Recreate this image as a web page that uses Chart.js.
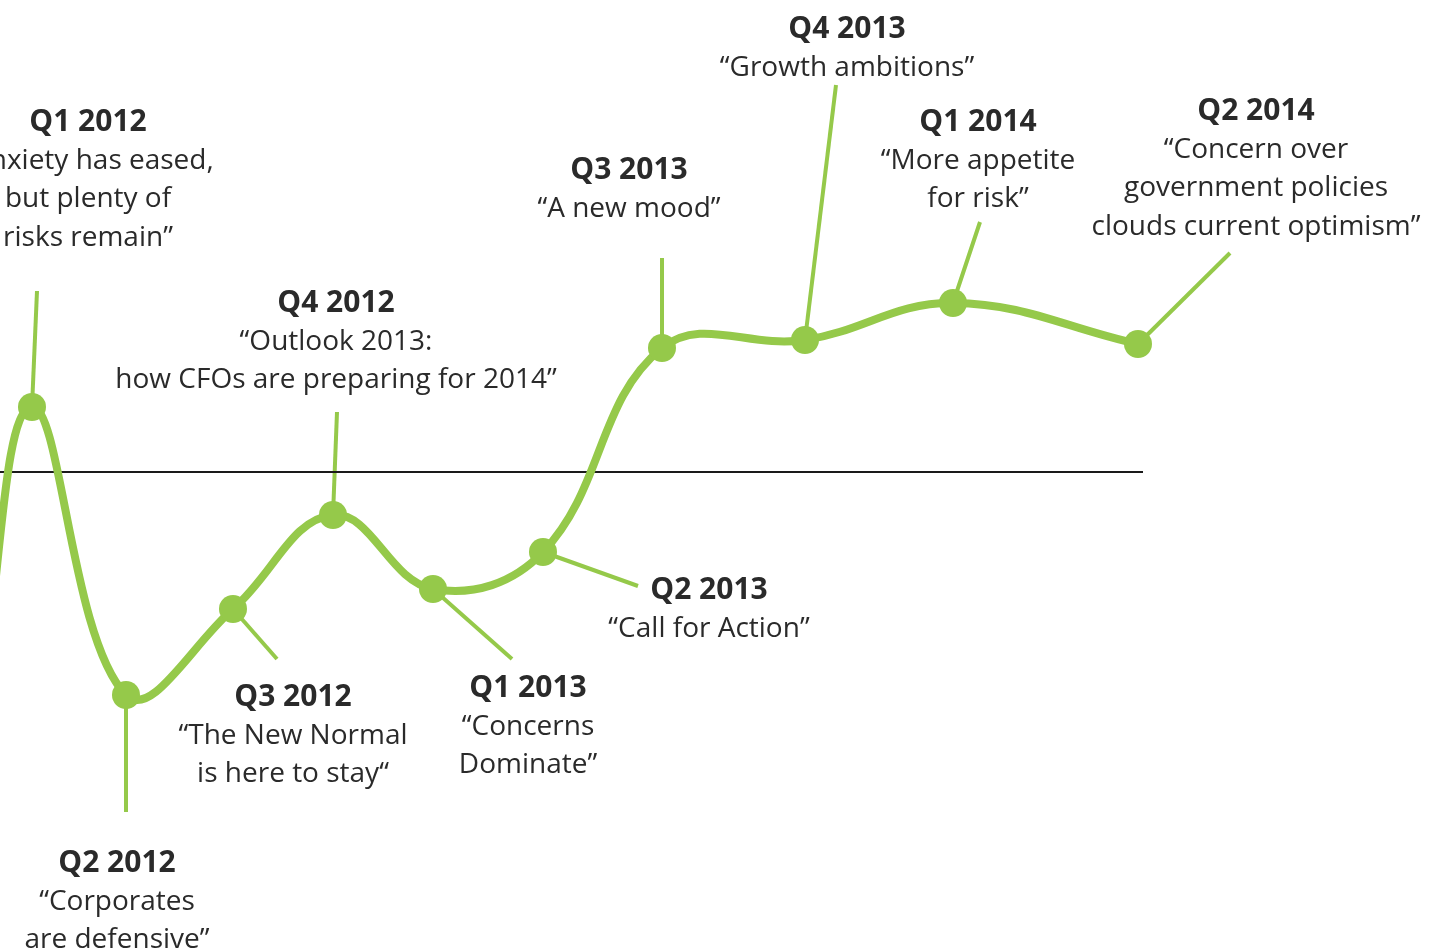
<!DOCTYPE html>
<html>
<head>
<meta charset="utf-8">
<script src="https://cdn.jsdelivr.net/npm/chart.js@4.4.1/dist/chart.umd.min.js"></script>
<style>
  html, body { margin: 0; padding: 0; background: #fff; overflow: hidden; }
  #moodChart { display: block; }
</style>
</head>
<body>
<canvas id="moodChart" width="1434" height="952"></canvas>
<script>
// quarters on the timeline (first one runs off the left edge)
const quarters = ['Q4 2011', 'Q1 2012', 'Q2 2012', 'Q3 2012', 'Q4 2012', 'Q1 2013',
                  'Q2 2013', 'Q3 2013', 'Q4 2013', 'Q1 2014', 'Q2 2014'];
// position along the timeline
const timeline = [-2.0, 3.2, 12.6, 23.3, 33.3, 43.3, 54.3, 66.2, 80.5, 95.3, 113.8];
// sentiment relative to the neutral line
const mood = [-23, 6.5, -22.3, -13.7, -4.3, -11.7, -8.0, 12.4, 13.2, 16.9, 12.8];
// neutral line extent
const neutralLine = [0, 114.3];

// quote under each quarter heading (null = no label)
const quotes = [
  null,
  ['\u201cAnxiety has eased,', 'but plenty of', 'risks remain\u201d'],
  ['\u201cCorporates', 'are defensive\u201d'],
  ['\u201cThe New Normal', 'is here to stay\u201c'],
  ['\u201cOutlook 2013:', 'how CFOs are preparing for 2014\u201d'],
  ['\u201cConcerns', 'Dominate\u201d'],
  ['\u201cCall for Action\u201d'],
  ['\u201cA new mood\u201d'],
  ['\u201cGrowth ambitions\u201d'],
  ['\u201cMore appetite', 'for risk\u201d'],
  ['\u201cConcern over', 'government policies', 'clouds current optimism\u201d']
];

// layout: pointer end and label centre, as pixel offsets from each point
const pointerOffset = [null, [5, -116], [0, 117], [44, 50], [4, -103], [79, 70],
                       [95, 34], [0, -90], [31, -255], [27, -81], [92, -91]];
const labelOffset = [null, [56, -285], [-9, 168], [60, 88], [3, -212], [95, 99],
                     [166, 38], [-33, -178], [42, -311], [25, -181], [118, -233]];

const GREEN = '#95c94a';
const TEXT = '#2a2a2a';
const LINE_GAP = 38.6;

const moodPoints = timeline.map((x, i) => ({ x: x, y: mood[i] }));
const neutralPoints = neutralLine.map(x => ({ x: x, y: 0 }));

// pointer lines from each dot to its caption, drawn under the curve
const pointerPlugin = {
  id: 'pointers',
  beforeDatasetsDraw(chart) {
    const ctx = chart.ctx;
    const meta = chart.getDatasetMeta(1);
    ctx.save();
    ctx.strokeStyle = GREEN;
    ctx.lineWidth = 4;
    meta.data.forEach((pt, i) => {
      const off = pointerOffset[i];
      if (!off) return;
      ctx.beginPath();
      ctx.moveTo(pt.x, pt.y);
      ctx.lineTo(pt.x + off[0], pt.y + off[1]);
      ctx.stroke();
    });
    ctx.restore();
  },
  afterDatasetsDraw(chart) {
    const ctx = chart.ctx;
    const meta = chart.getDatasetMeta(1);
    ctx.save();
    ctx.fillStyle = TEXT;
    ctx.textAlign = 'center';
    ctx.textBaseline = 'middle';
    meta.data.forEach((pt, i) => {
      const off = labelOffset[i];
      if (!off) return;
      const cx = pt.x + off[0];
      let cy = pt.y + off[1];
      ctx.font = 'bold 30px "Open Sans", sans-serif';
      ctx.fillText(quarters[i], cx, cy);
      ctx.font = '28px "Open Sans", sans-serif';
      quotes[i].forEach(line => {
        cy += LINE_GAP;
        ctx.fillText(line, cx, cy);
      });
    });
    ctx.restore();
  }
};

new Chart(document.getElementById('moodChart'), {
  type: 'line',
  data: {
    datasets: [
      {
        data: neutralPoints,
        borderColor: '#1a1a1a',
        borderWidth: 2,
        pointRadius: 0,
        tension: 0,
        order: 2
      },
      {
        data: moodPoints,
        borderColor: GREEN,
        backgroundColor: GREEN,
        borderWidth: 8,
        pointRadius: 14,
        pointBorderWidth: 0,
        pointBackgroundColor: GREEN,
        tension: 0.4,
        fill: false,
        order: 1
      }
    ]
  },
  options: {
    responsive: false,
    animation: false,
    maintainAspectRatio: false,
    layout: { padding: 0, autoPadding: false },
    plugins: { legend: { display: false }, tooltip: { enabled: false } },
    scales: {
      x: { type: 'linear', min: 0, max: 143.4, display: false },
      y: { type: 'linear', min: -48, max: 47.2, display: false }
    }
  },
  plugins: [pointerPlugin]
});
</script>
</body>
</html>
